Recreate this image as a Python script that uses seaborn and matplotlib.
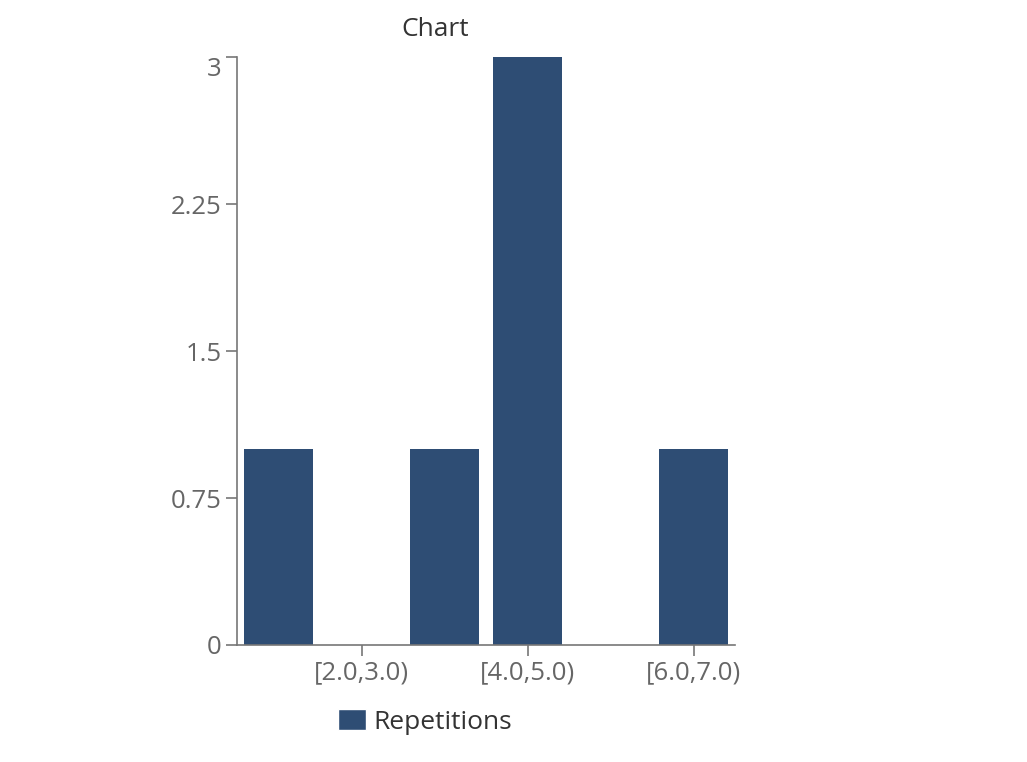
import matplotlib
matplotlib.use("Agg")
import matplotlib.pyplot as plt
import seaborn as sns
import pandas as pd
from matplotlib.patches import Patch

bins = ["[1.0,2.0)", "[2.0,3.0)", "[3.0,4.0)", "[4.0,5.0)", "[5.0,6.0)", "[6.0,7.0)"]
repetitions = [1, 0, 1, 3, 0, 1]
y_ticks = [0, 0.75, 1.5, 2.25, 3]
y_labels = ["0", "0.75", "1.5", "2.25", "3"]

bar_color = "#2e4d74"
axis_color = "#777777"
text_color = "#666666"

sns.set_style("white")
plt.rcParams["font.family"] = ["Open Sans", "DejaVu Sans"]

df = pd.DataFrame({"bin": bins, "Repetitions": repetitions})

fig = plt.figure(figsize=(10.27, 7.62), dpi=100)
ax = fig.add_axes([237 / 1027, 1 - 645 / 762, 498 / 1027, 588 / 762])
sns.barplot(data=df, x="bin", y="Repetitions", color=bar_color, width=0.82,
            saturation=1, linewidth=0, ax=ax)

ax.set_xlim(-0.5, len(bins) - 0.5)
ax.set_ylim(0, 3)
ax.set_yticks(y_ticks)
ax.set_yticklabels(y_labels)
ax.set_xticks([1, 3, 5])
ax.set_xticklabels([bins[1], bins[3], bins[5]])
ax.set_xlabel("")
ax.set_ylabel("")

for side in ["top", "right"]:
    ax.spines[side].set_visible(False)
for side in ["left", "bottom"]:
    ax.spines[side].set_color(axis_color)
    ax.spines[side].set_linewidth(1.2)
ax.tick_params(axis="both", bottom=True, left=True, colors=axis_color,
               length=8, width=1.2, labelsize=18.5, labelcolor=text_color, pad=3)
# top label sits just below its tick, as in the original
ax.get_yticklabels()[-1].set_va("top")

fig.text(435 / 1027, 1 - 30 / 762, "Chart", ha="center", va="center",
         fontsize=19, color="#333333")

handles = [Patch(facecolor=bar_color, label="Repetitions")]
fig.legend(handles=handles, loc="center", bbox_to_anchor=(425 / 1027, 1 - 722 / 762),
           frameon=False, fontsize=19, handlelength=1.05, handleheight=0.85,
           handletextpad=0.3, labelcolor="#333333")

fig.savefig("out.png", dpi=100)
